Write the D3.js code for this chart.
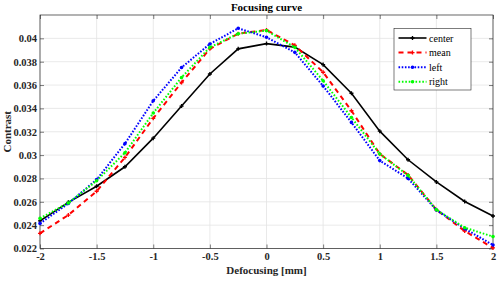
<!DOCTYPE html>
<html>
<head>
<meta charset="utf-8">
<script src="https://cdn.jsdelivr.net/npm/d3@7"></script>
<style>
  body { margin: 0; background: #fff; }
  svg { display: block; }
  text { font-family: "Liberation Serif", "Times New Roman", serif; }
</style>
</head>
<body>
<div id="chart"></div>
<script>
// Data
const defocus = [-2, -1.75, -1.5, -1.25, -1, -0.75, -0.5, -0.25, 0, 0.25, 0.5, 0.75, 1, 1.25, 1.5, 1.75, 2];
const center = [0.02437, 0.02595, 0.02733, 0.02900, 0.03145, 0.03420, 0.03695, 0.03910, 0.03955, 0.03925, 0.03775, 0.03530, 0.03205, 0.02960, 0.02770, 0.02603, 0.02478];
const mean   = [0.02330, 0.02486, 0.02690, 0.02980, 0.03315, 0.03622, 0.03910, 0.04040, 0.04072, 0.03940, 0.03710, 0.03380, 0.03010, 0.02830, 0.02532, 0.02350, 0.02205];
const left   = [0.02415, 0.02585, 0.02790, 0.03098, 0.03465, 0.03750, 0.03952, 0.04086, 0.04010, 0.03880, 0.03592, 0.03280, 0.02953, 0.02800, 0.02530, 0.02370, 0.02230];
const right  = [0.02458, 0.02590, 0.02780, 0.03020, 0.03360, 0.03665, 0.03923, 0.04040, 0.04066, 0.03923, 0.03637, 0.03322, 0.03010, 0.02826, 0.02532, 0.02378, 0.02302];
const xTicks = [-2, -1.5, -1, -0.5, 0, 0.5, 1, 1.5, 2];
const yTicks = [0.022, 0.024, 0.026, 0.028, 0.03, 0.032, 0.034, 0.036, 0.038, 0.04];

const series = [
  { name: 'center', values: center, color: '#000000', dash: null, width: 1.6, marker: 'plus' },
  { name: 'mean', values: mean, color: '#ff0000', dash: '5,4', width: 2, marker: 'plus' },
  { name: 'left', values: left, color: '#0000ff', dash: '1.6,1.6', width: 2, marker: 'dot' },
  { name: 'right', values: right, color: '#00ff00', dash: '1.6,1.8', width: 2, marker: 'dot' }
];

const width = 500;
const height = 281;
const margin = { top: 15, right: 7, bottom: 32.5, left: 40 };

const svg = d3.select('#chart')
  .append('svg')
  .attr('width', width)
  .attr('height', height);

const x = d3.scaleLinear()
  .domain([-2, 2])
  .range([margin.left, width - margin.right]);

const y = d3.scaleLinear()
  .domain([0.022, 0.042])
  .range([height - margin.bottom, margin.top]);

const x0 = margin.left, x1 = width - margin.right;
const y0 = height - margin.bottom, y1 = margin.top;

// Grid
svg.append('g')
  .selectAll('line')
  .data(xTicks)
  .join('line')
  .attr('x1', d => x(d)).attr('x2', d => x(d))
  .attr('y1', y0).attr('y2', y1)
  .style('stroke', '#e3e3e3')
  .style('stroke-width', 0.8);

svg.append('g')
  .selectAll('line')
  .data(yTicks)
  .join('line')
  .attr('x1', x0).attr('x2', x1)
  .attr('y1', d => y(d)).attr('y2', d => y(d))
  .style('stroke', '#e3e3e3')
  .style('stroke-width', 0.8);

// Axes (ticks inside)
const fmt = d => String(d).replace(/^(-?)0\./, '$10.');
const xAxis = svg.append('g')
  .attr('transform', `translate(0,${y0})`)
  .call(d3.axisBottom(x).tickValues(xTicks).tickSizeInner(-4).tickSizeOuter(0).tickPadding(6).tickFormat(d => d));
const xAxisTop = svg.append('g')
  .attr('transform', `translate(0,${y1})`)
  .call(d3.axisTop(x).tickValues(xTicks).tickSizeInner(-4).tickSizeOuter(0).tickFormat(''));
const yAxis = svg.append('g')
  .attr('transform', `translate(${x0},0)`)
  .call(d3.axisLeft(y).tickValues(yTicks).tickSizeInner(-4).tickSizeOuter(0).tickPadding(3).tickFormat(fmt));
const yAxisRight = svg.append('g')
  .attr('transform', `translate(${x1},0)`)
  .call(d3.axisRight(y).tickValues(yTicks).tickSizeInner(-4).tickSizeOuter(0).tickFormat(''));

[xAxis, xAxisTop, yAxis, yAxisRight].forEach(g => {
  g.select('.domain').remove();
  g.selectAll('line').style('stroke', '#262626').style('stroke-width', 0.6);
  g.selectAll('text')
    .style('font-family', '"Liberation Serif", serif')
    .style('font-weight', 'bold')
    .style('font-size', '10.5px')
    .style('fill', '#262626');
});
xAxis.selectAll('text').attr('dy', '0.55em');

// Box
svg.append('rect')
  .attr('x', x0).attr('y', y1)
  .attr('width', x1 - x0).attr('height', y0 - y1)
  .style('fill', 'none')
  .style('stroke', '#262626')
  .style('stroke-width', 0.7);

// Lines
const line = d3.line()
  .x((d, i) => x(defocus[i]))
  .y(d => y(d));

series.forEach(s => {
  const g = svg.append('g');
  g.append('path')
    .datum(s.values)
    .attr('d', line)
    .style('fill', 'none')
    .style('stroke', s.color)
    .style('stroke-width', s.width)
    .style('stroke-dasharray', s.dash);
  if (s.marker === 'dot') {
    g.selectAll('circle')
      .data(s.values)
      .join('circle')
      .attr('cx', (d, i) => x(defocus[i]))
      .attr('cy', d => y(d))
      .attr('r', 1.8)
      .style('fill', s.color);
  } else {
    g.selectAll('path.mk')
      .data(s.values)
      .join('path')
      .attr('class', 'mk')
      .attr('d', d3.symbol(d3.symbolCross, 9))
      .attr('transform', (d, i) => `translate(${x(defocus[i])},${y(d)})`)
      .style('fill', s.color);
  }
});

// Title and labels
svg.append('text')
  .attr('x', (x0 + x1) / 2)
  .attr('y', 11)
  .attr('text-anchor', 'middle')
  .style('font-weight', 'bold')
  .style('font-size', '11px')
  .text('Focusing curve');

svg.append('text')
  .attr('x', (x0 + x1) / 2)
  .attr('y', 274)
  .attr('text-anchor', 'middle')
  .style('font-weight', 'bold')
  .style('font-size', '11px')
  .style('fill', '#262626')
  .text('Defocusing [mm]');

svg.append('text')
  .attr('transform', `translate(11,${(y0 + y1) / 2}) rotate(-90)`)
  .attr('text-anchor', 'middle')
  .style('font-weight', 'bold')
  .style('font-size', '11px')
  .style('fill', '#262626')
  .text('Contrast');

// Legend
const legend = svg.append('g').attr('transform', 'translate(394,28.5)');
legend.append('rect')
  .attr('width', 77).attr('height', 61.5)
  .style('fill', '#fff')
  .style('stroke', '#262626')
  .style('stroke-width', 0.6);

series.forEach((s, i) => {
  const ly = 9.5 + i * 14.6;
  legend.append('line')
    .attr('x1', 4.5).attr('x2', 32.5)
    .attr('y1', ly).attr('y2', ly)
    .style('stroke', s.color)
    .style('stroke-width', s.width)
    .style('stroke-dasharray', s.dash);
  if (s.marker === 'dot') {
    legend.append('circle').attr('cx', 18.5).attr('cy', ly).attr('r', 1.8).style('fill', s.color);
  } else {
    legend.append('path')
      .attr('d', d3.symbol(d3.symbolCross, 9))
      .attr('transform', `translate(18.5,${ly})`)
      .style('fill', s.color);
  }
  legend.append('text')
    .attr('x', 35)
    .attr('y', ly)
    .attr('dy', '0.35em')
    .style('font-size', '10px')
    .text(s.name);
});
</script>
</body>
</html>
